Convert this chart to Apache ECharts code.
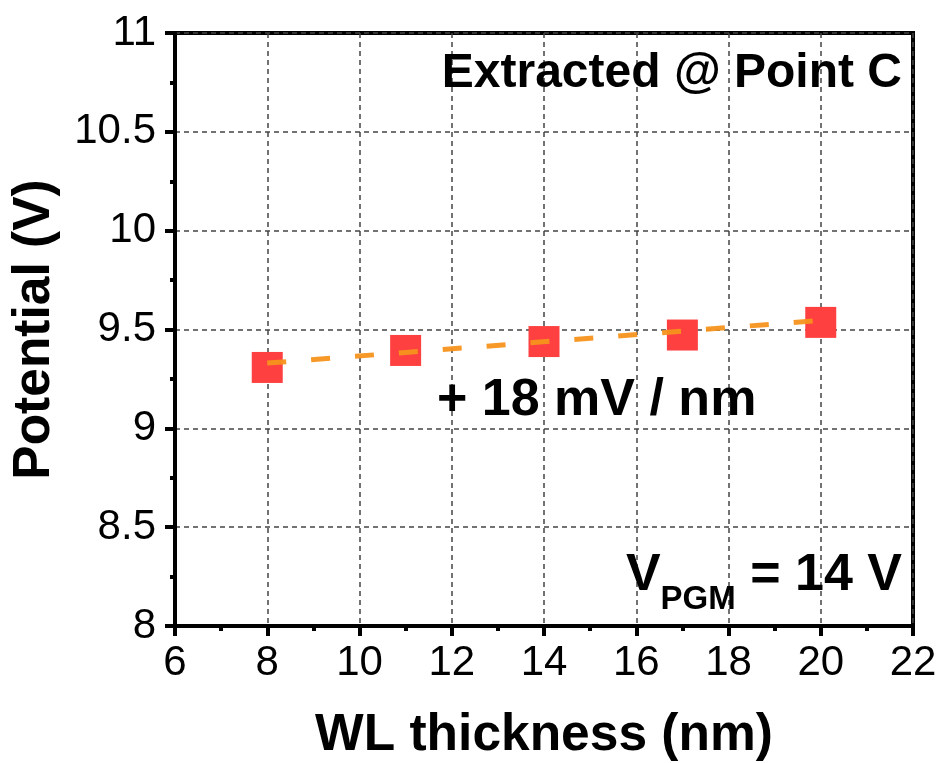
<!DOCTYPE html>
<html>
<head>
<meta charset="utf-8">
<script src="https://cdn.jsdelivr.net/npm/echarts@6/dist/echarts.min.js"></script>
<style>html,body{margin:0;padding:0;background:#fff;}#c{width:939px;height:763px;}</style>
</head>
<body>
<div id="c"></div>
<script>
const wlThickness = [8, 11, 14, 17, 20];
const potential = [9.308, 9.394, 9.439, 9.472, 9.536];
const fitX = [8, 20];
const fitY = [9.33, 9.546];
const xTicks = [6, 8, 10, 12, 14, 16, 18, 20, 22];
const yTicks = [8, 8.5, 9, 9.5, 10, 10.5, 11];

const FONT = "'Liberation Sans', Arial, sans-serif";
const chart = echarts.init(document.getElementById('c'), null, {renderer: 'canvas'});

const gridLine = {show: true, lineStyle: {color: '#444', width: 1.5, type: [5, 4]}};

chart.setOption({
  animation: false,
  backgroundColor: '#fff',
  grid: {left: 175, right: 26, top: 33, bottom: 137, outerBoundsMode: 'none', containLabel: false,
    show: true, borderColor: '#000', borderWidth: 4, backgroundColor: 'transparent'},
  xAxis: {
    type: 'value', min: xTicks[0], max: xTicks[xTicks.length - 1], interval: 2,
    name: 'WL thickness (nm)', nameLocation: 'middle', nameGap: 84,
    nameTextStyle: {fontFamily: FONT, fontSize: 51.5, fontWeight: 'bold', color: '#000'},
    axisLine: {show: true, onZero: false, lineStyle: {color: '#000', width: 4}},
    axisTick: {show: true, length: 10, lineStyle: {color: '#000', width: 4}},
    minorTick: {show: true, splitNumber: 2, length: 5, lineStyle: {color: '#000', width: 4}},
    axisLabel: {fontFamily: FONT, fontSize: 42, color: '#000', margin: 16},
    splitLine: gridLine
  },
  yAxis: {
    type: 'value', min: yTicks[0], max: yTicks[yTicks.length - 1], interval: 0.5,
    name: 'Potential (V)', nameLocation: 'middle', nameGap: 114,
    nameTextStyle: {fontFamily: FONT, fontSize: 51.5, fontWeight: 'bold', color: '#000'},
    axisLine: {show: true, onZero: false, lineStyle: {color: '#000', width: 4}},
    axisTick: {show: true, length: 10, lineStyle: {color: '#000', width: 4}},
    minorTick: {show: true, splitNumber: 2, length: 5, lineStyle: {color: '#000', width: 4}},
    axisLabel: {fontFamily: FONT, fontSize: 42, color: '#000', margin: 19},
    splitLine: gridLine
  },
  series: [
    {
      type: 'scatter', symbol: 'rect', symbolSize: 31,
      itemStyle: {color: '#FF4040', opacity: 1},
      data: wlThickness.map((x, i) => [x, potential[i]]), z: 3
    },
    {
      type: 'line', symbol: 'none', silent: true,
      lineStyle: {color: '#F7931E', width: 5, type: [19, 25], opacity: 0.95},
      data: fitX.map((x, i) => [x, fitY[i]]), z: 5
    }
  ],
  graphic: [
    {type: 'text', right: 37, top: 50, z: 10, style: {text: 'Extracted @ Point C', font: "bold 48px " + FONT, fill: '#000'}},
    {type: 'text', left: 437, top: 375, z: 10, style: {text: '+ 18 mV / nm', font: "bold 52px " + FONT, fill: '#000'}},
    {type: 'text', right: 37, top: 550, z: 10, style: {
      text: '{a|V}{b|PGM}{a| = 14 V}',
      rich: {
        a: {fontFamily: FONT, fontWeight: 'bold', fontSize: 52, fill: '#000', verticalAlign: 'bottom', lineHeight: 60},
        b: {fontFamily: FONT, fontWeight: 'bold', fontSize: 33, fill: '#000', verticalAlign: 'bottom', lineHeight: 60, padding: [0, 0, -14, 0]}
      }
    }}
  ]
});
</script>
</body>
</html>
